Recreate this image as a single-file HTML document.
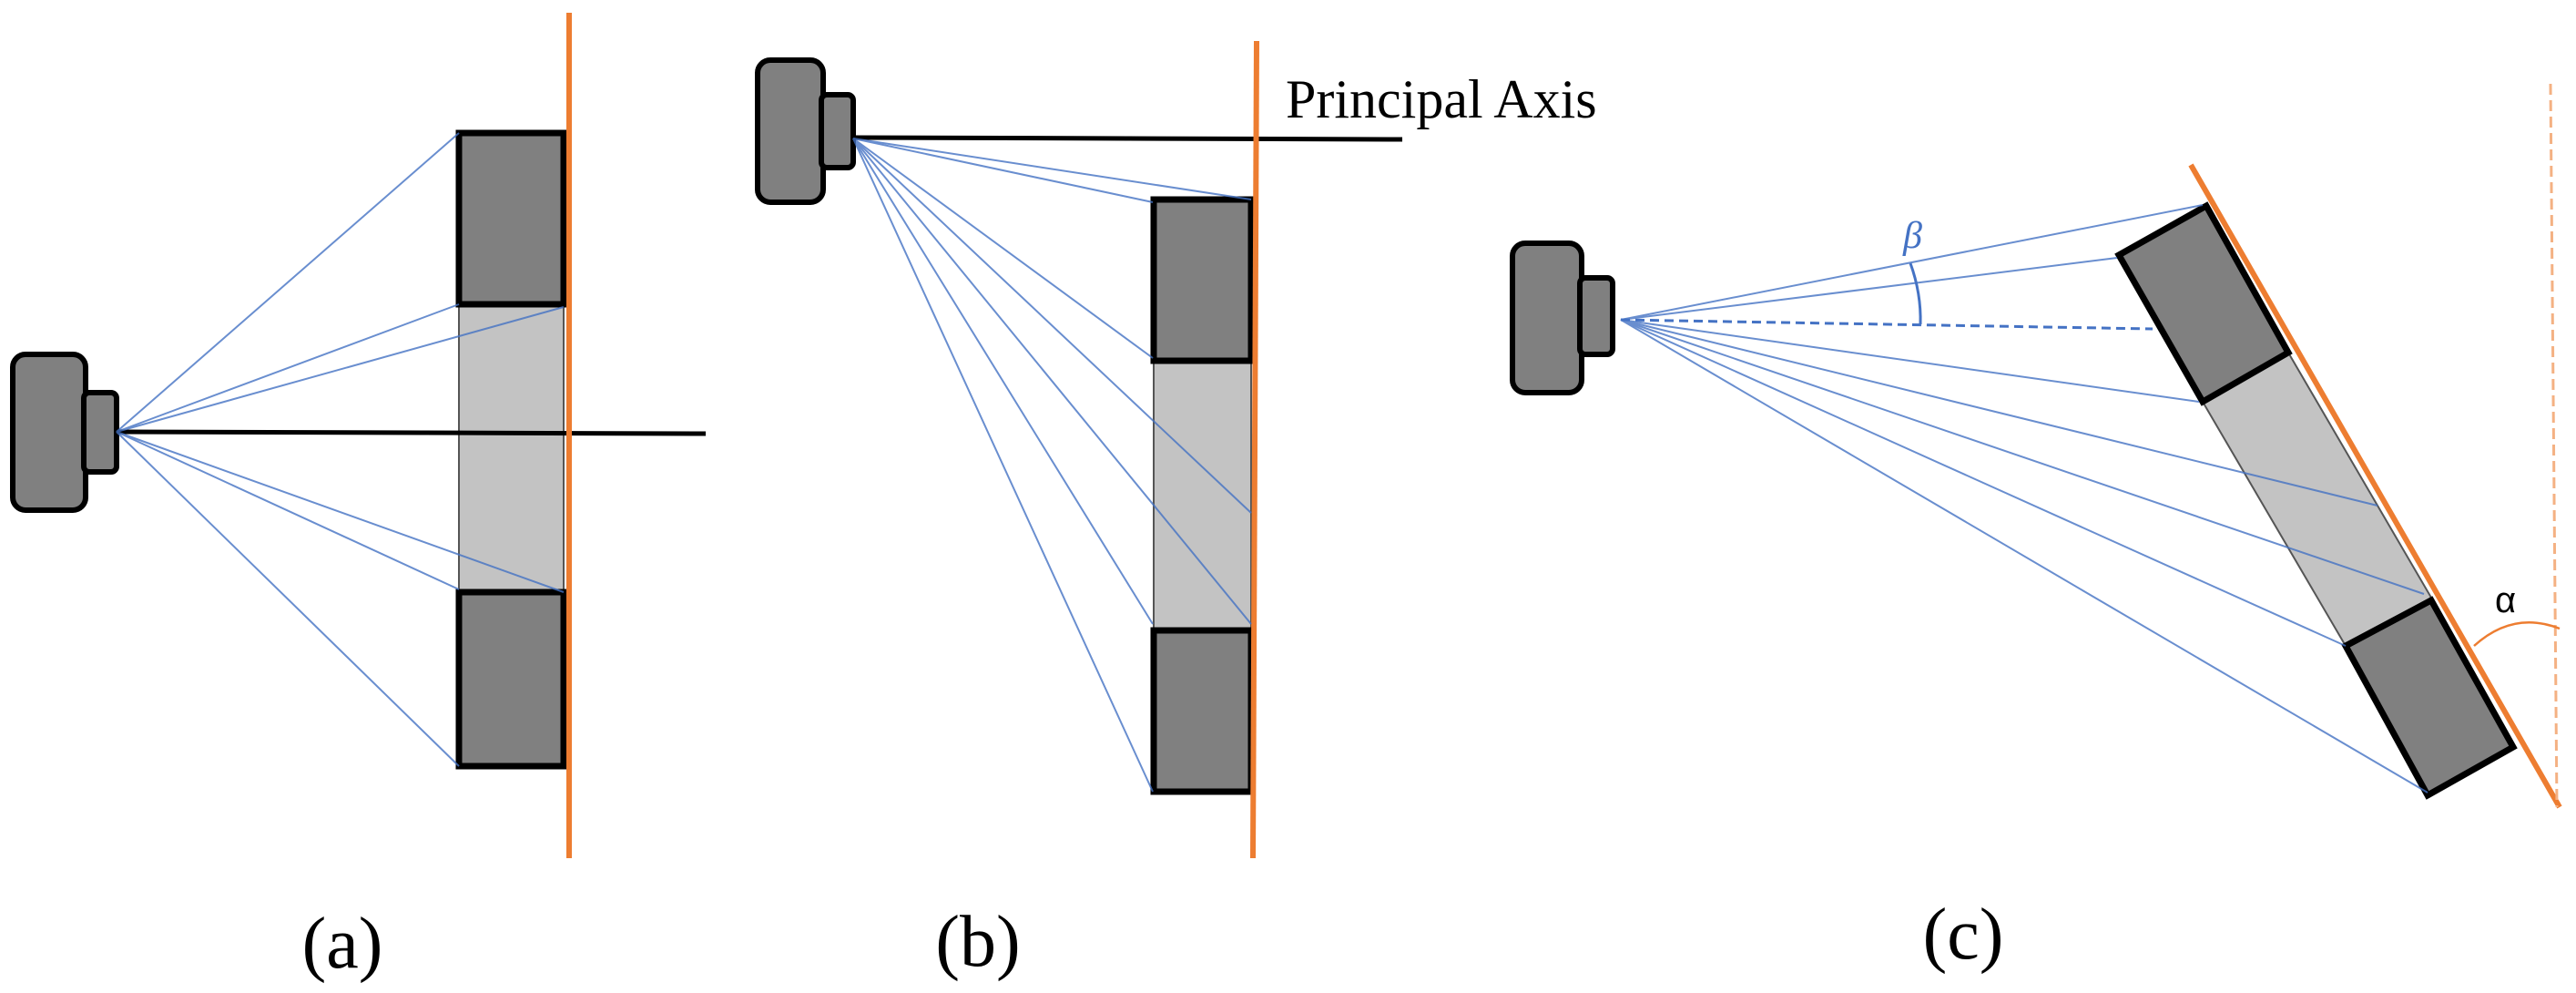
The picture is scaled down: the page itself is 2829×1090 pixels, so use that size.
<!DOCTYPE html>
<html><head><style>body{margin:0;background:#fff}svg{display:block}</style></head><body>
<svg width="2829" height="1090" viewBox="0 0 2829 1090" xmlns="http://www.w3.org/2000/svg">
<rect width="2829" height="1090" fill="#fff"/>
<g stroke="#000" stroke-width="6" fill="#808080">
  <rect x="14" y="389" width="80" height="171" rx="14"/>
  <rect x="92" y="431" width="36" height="87" rx="6"/>
  <rect x="832" y="66" width="72" height="156" rx="14"/>
  <rect x="902" y="104" width="35" height="80" rx="6"/>
  <rect x="1661" y="267" width="76" height="164" rx="14"/>
  <rect x="1735" y="305" width="36" height="84" rx="6"/>
</g>
<!-- (a) -->
<rect x="504" y="334" width="115" height="316" fill="#c3c3c3" stroke="#555" stroke-width="2"/>
<rect x="504" y="146" width="115" height="188" fill="#808080" stroke="#000" stroke-width="7"/>
<rect x="504" y="650" width="115" height="191" fill="#808080" stroke="#000" stroke-width="7"/>
<line x1="128" y1="474" x2="775" y2="476" stroke="#000" stroke-width="5"/>
<line x1="625" y1="14" x2="625" y2="942" stroke="#ed7d31" stroke-width="6"/>
<g stroke="#4472c4" stroke-width="2" opacity="0.8">
  <line x1="128" y1="474" x2="504" y2="146"/><line x1="128" y1="474" x2="504" y2="334"/>
  <line x1="128" y1="474" x2="619" y2="337"/><line x1="128" y1="474" x2="619" y2="650"/>
  <line x1="128" y1="474" x2="504" y2="647"/><line x1="128" y1="474" x2="504" y2="841"/>
</g>
<!-- (b) -->
<rect x="1267" y="396" width="107" height="296" fill="#c3c3c3" stroke="#555" stroke-width="2"/>
<rect x="1267" y="219" width="107" height="177" fill="#808080" stroke="#000" stroke-width="7"/>
<rect x="1267" y="692" width="107" height="177" fill="#808080" stroke="#000" stroke-width="7"/>
<line x1="937" y1="151" x2="1540" y2="153" stroke="#000" stroke-width="5"/>
<line x1="1380" y1="45" x2="1376" y2="942" stroke="#ed7d31" stroke-width="6"/>
<g stroke="#4472c4" stroke-width="2" opacity="0.8">
  <line x1="937" y1="152" x2="1374" y2="219"/><line x1="937" y1="152" x2="1266" y2="222"/>
  <line x1="937" y1="152" x2="1266" y2="393"/><line x1="937" y1="152" x2="1374" y2="563"/>
  <line x1="937" y1="152" x2="1374" y2="685"/><line x1="937" y1="152" x2="1266" y2="685"/>
  <line x1="937" y1="152" x2="1266" y2="869"/>
</g>
<text x="1412" y="129" font-family="Liberation Serif, serif" font-size="60">Principal Axis</text>
<!-- (c) -->
<polygon points="2419,441 2513,387 2670,656 2576,709" fill="#c3c3c3" stroke="#555" stroke-width="2"/>
<polygon points="2423,226 2513,387 2419,441 2327,280" fill="#808080" stroke="#000" stroke-width="7" stroke-linejoin="miter"/>
<polygon points="2576,709 2670,659 2760,820 2666,873" fill="#808080" stroke="#000" stroke-width="7"/>
<line x1="2406" y1="181" x2="2811" y2="886" stroke="#ed7d31" stroke-width="6"/>
<line x1="2801" y1="92" x2="2808" y2="886" stroke="#f4b183" stroke-width="3" stroke-dasharray="12,6"/>
<g stroke="#4472c4" stroke-width="2" opacity="0.8">
  <line x1="1780" y1="351" x2="2419" y2="225"/><line x1="1780" y1="351" x2="2325" y2="283"/>
  <line x1="1780" y1="351" x2="2415" y2="441"/><line x1="1780" y1="351" x2="2611" y2="555"/>
  <line x1="1780" y1="351" x2="2662" y2="652"/><line x1="1780" y1="351" x2="2576" y2="709"/>
  <line x1="1780" y1="351" x2="2666" y2="870"/>
</g>
<line x1="1780" y1="351" x2="2364" y2="361" stroke="#4472c4" stroke-width="3" stroke-dasharray="10,6"/>
<path d="M2098,289 Q2110,322 2109,356" fill="none" stroke="#4472c4" stroke-width="3"/>
<text x="2090" y="272" font-family="Liberation Serif, serif" font-style="italic" font-size="42" fill="#4472c4">β</text>
<path d="M2717,709 Q2760,670 2811,690" fill="none" stroke="#ed7d31" stroke-width="2.5"/>
<text x="2740" y="672" font-family="Liberation Sans, sans-serif" font-size="40" fill="#000">α</text>
<g font-family="Liberation Serif, serif" font-size="80" text-anchor="middle">
  <text x="376" y="1062">(a)</text>
  <text x="1074" y="1060">(b)</text>
  <text x="2156" y="1052">(c)</text>
</g>
</svg>
</body></html>
